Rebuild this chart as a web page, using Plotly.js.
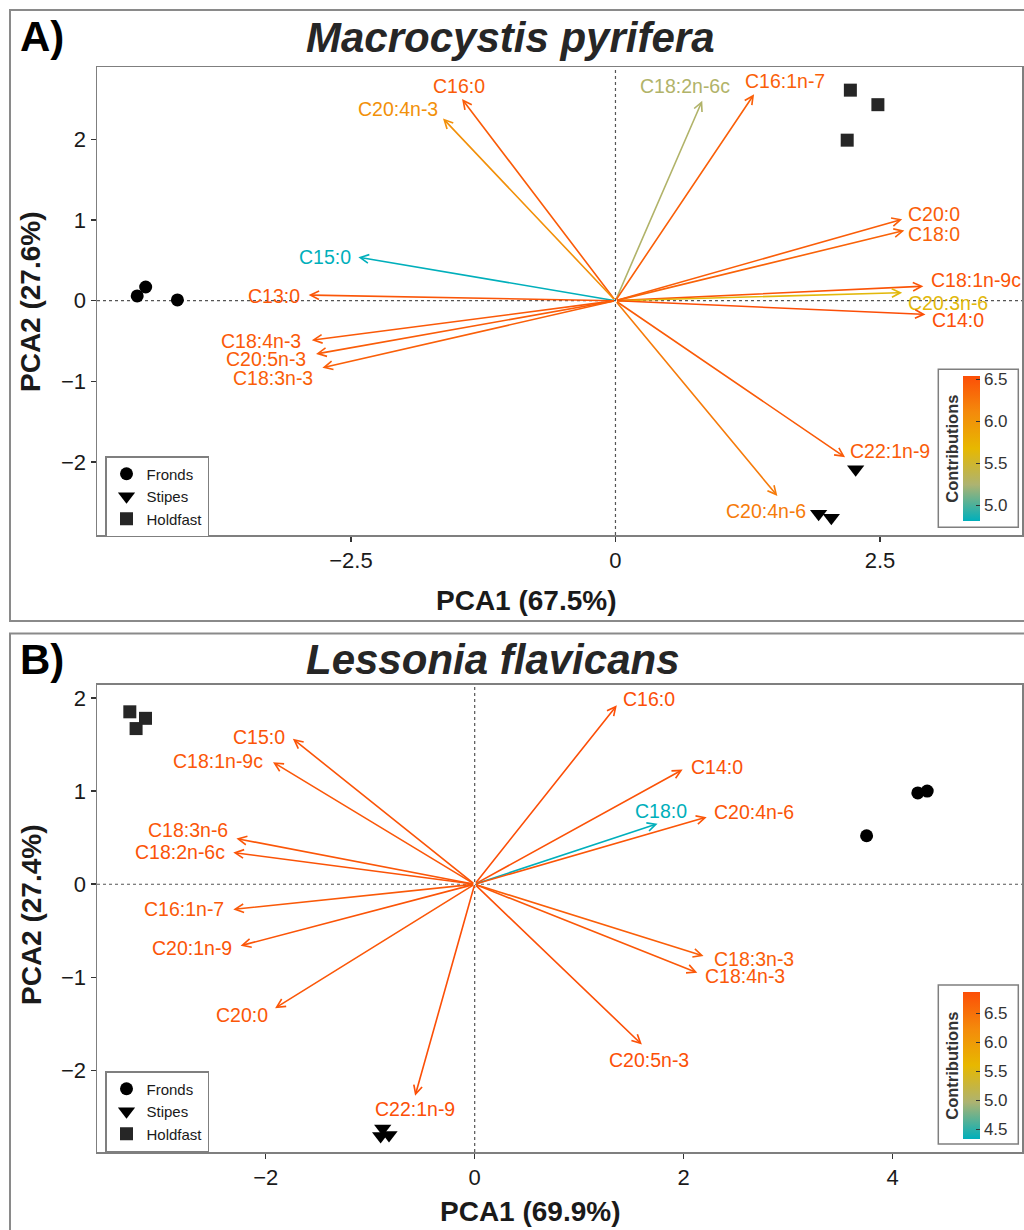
<!DOCTYPE html>
<html><head><meta charset="utf-8">
<script src="https://cdn.plot.ly/plotly-3.0.1.min.js"></script>
<style>html,body{margin:0;padding:0;background:#fff}#chart{width:1024px;height:1230px}</style>
</head><body><div id="chart"></div>
<script>
// ---------- Panel A: Macrocystis pyrifera ----------
const groups = ['Fronds', 'Stipes', 'Holdfast'];
const frondsA_x = [-4.52, -4.44, -4.14];
const frondsA_y = [0.06, 0.17, 0.01];
const stipesA_x = [2.27, 1.92, 2.04];
const stipesA_y = [-2.09, -2.64, -2.69];
const holdfastA_x = [2.22, 2.48, 2.19];
const holdfastA_y = [2.61, 2.43, 1.99];

const varsA = ['C16:0','C20:4n-3','C15:0','C13:0','C18:4n-3','C20:5n-3','C18:3n-3','C18:2n-6c','C16:1n-7','C20:0','C18:0','C18:1n-9c','C20:3n-6','C14:0','C22:1n-9','C20:4n-6'];
const pc1A = [-1.45, -1.63, -2.43, -2.90, -2.87, -2.83, -2.77, 0.82, 1.31, 2.71, 2.73, 2.91, 2.71, 2.93, 2.17, 1.53];
const pc2A = [2.50, 2.26, 0.54, 0.07, -0.49, -0.66, -0.83, 2.48, 2.56, 1.01, 0.87, 0.18, 0.10, -0.17, -1.94, -2.42];
const contribA = [6.45, 6.05, 4.82, 6.48, 6.46, 6.44, 6.42, 5.28, 6.42, 6.43, 6.40, 6.50, 5.64, 6.54, 6.45, 6.22];

// ---------- Panel B: Lessonia flavicans ----------
const frondsB_x = [3.75, 4.24, 4.33];
const frondsB_y = [0.52, 0.98, 1.00];
const stipesB_x = [-0.90, -0.82, -0.88];
const stipesB_y = [-2.70, -2.69, -2.62];
const holdfastB_x = [-3.30, -3.15, -3.24];
const holdfastB_y = [1.85, 1.78, 1.67];

const varsB = ['C16:0','C14:0','C18:0','C20:4n-6','C15:0','C18:1n-9c','C18:3n-6','C18:2n-6c','C16:1n-7','C20:1n-9','C20:0','C22:1n-9','C18:3n-3','C18:4n-3','C20:5n-3'];
const pc1B = [1.36, 1.99, 1.75, 2.22, -1.74, -1.93, -2.28, -2.31, -2.31, -2.24, -1.91, -0.57, 2.19, 2.13, 1.60];
const pc2B = [1.92, 1.23, 0.65, 0.72, 1.56, 1.31, 0.49, 0.34, -0.27, -0.66, -1.33, -2.27, -0.77, -0.95, -1.72];
const contribB = [6.87, 6.83, 4.34, 6.80, 6.81, 6.78, 6.79, 6.82, 6.75, 6.81, 6.77, 6.86, 6.70, 6.76, 6.85];

const titleA = 'Macrocystis pyrifera', xTitleA = 'PCA1 (67.5%)', yTitleA = 'PCA2 (27.6%)';
const titleB = 'Lessonia flavicans',  xTitleB = 'PCA1 (69.9%)', yTitleB = 'PCA2 (27.4%)';
const ticksA_cb = [5.0, 5.5, 6.0, 6.5];
const ticksB_cb = [4.5, 5.0, 5.5, 6.0, 6.5];

// ---------- styling (label placement: anchor, x shift px, y shift px) ----------
const labPosA = [['center',-3,13],['right',-4,9],['right',-6,0],['right',-8,-1],['right',-10,-1],['right',-9,-5],['right',-8,-10],['center',-17,15],['left',-10,13],['left',5,5],['left',3,-3],['left',7,6],['left',5,-10],['left',5,-6],['left',4,6],['right',30,-15]];
const labPosB = [['left',5,6],['left',7,3],['center',3,13],['left',6,5],['right',-7,2],['right',-9,1],['right',-7,9],['right',-7,1],['right',-8,0],['right',-8,-2],['right',-6,-7],['center',0,-13],['left',9,-3],['left',7,-3],['center',7,-15]];

const scaleStops = [[0,'#00AFBB'],[0.25,'#ADB371'],[0.5,'#E7B800'],[0.75,'#F48A0B'],[1,'#FC4E07']];
function hex2rgb(h){return [parseInt(h.slice(1,3),16),parseInt(h.slice(3,5),16),parseInt(h.slice(5,7),16)];}
function colorAt(v, lo, hi){
  let t = (v-lo)/(hi-lo); t = Math.max(0, Math.min(1, t));
  for(let i=1;i<scaleStops.length;i++){
    if(t <= scaleStops[i][0]){
      const a = scaleStops[i-1], b = scaleStops[i];
      const f = (t-a[0])/(b[0]-a[0]);
      const ca = hex2rgb(a[1]), cb = hex2rgb(b[1]);
      return 'rgb(' + ca.map((c,k)=>Math.round(c+(cb[k]-c)*f)).join(',') + ')';
    }
  }
  return scaleStops[scaleStops.length-1][1];
}

const W = 1024, H = 1230;
const px = x => x / W;
const py = y => 1 - y / H;
const FONT = 'Liberation Sans, Arial, Helvetica, sans-serif';

function pointTraces(xa, ya, legendName, fx, fy, sx, sy, hx, hy){
  const base = {type:'scatter', mode:'markers', xaxis:xa, yaxis:ya, legend:legendName, hoverinfo:'skip', cliponaxis:false};
  return [
    Object.assign({}, base, {name:groups[0], x:fx, y:fy, marker:{symbol:'circle', size:13, color:'#000'}}),
    Object.assign({}, base, {name:groups[1], x:sx, y:sy, marker:{symbol:'triangle-down', size:15, color:'#000'}}),
    Object.assign({}, base, {name:groups[2], x:hx, y:hy, marker:{symbol:'square', size:13, color:'#262626'}})
  ];
}

function cbTrace(xa, ya, xs, ys, cs, ticks, yCenter, lenPx){
  const lo = Math.min(...cs), hi = Math.max(...cs);
  return {type:'scatter', mode:'markers', xaxis:xa, yaxis:ya, x:xs, y:ys, showlegend:false, hoverinfo:'skip',
    marker:{size:2, opacity:0, color:cs, cmin:lo, cmax:hi, colorscale:scaleStops, showscale:true,
      colorbar:{x:px(962.7), xanchor:'left', xref:'paper', y:py(yCenter), yanchor:'middle', yref:'paper',
        thickness:17, thicknessmode:'pixels', len:lenPx, lenmode:'pixels', xpad:0, ypad:0,
        outlinewidth:0, ticks:'inside', ticklen:4, tickcolor:'#333', tickwidth:1,
        tickvals:ticks, ticktext:ticks.map(v=>v.toFixed(1)),
        tickfont:{family:FONT, size:17, color:'#333'}}}};
}

const traces = [].concat(
  pointTraces('x','y','legend', frondsA_x, frondsA_y, stipesA_x, stipesA_y, holdfastA_x, holdfastA_y),
  pointTraces('x2','y2','legend2', frondsB_x, frondsB_y, stipesB_x, stipesB_y, holdfastB_x, holdfastB_y),
  [cbTrace('x','y', pc1A, pc2A, contribA, ticksA_cb, 448.2, 145),
   cbTrace('x2','y2', pc1B, pc2B, contribB, ticksB_cb, 1065, 146.6)]
);

const annotations = [];
function addArrows(names, xs, ys, cs, pos, xr, yr){
  const lo = Math.min(...cs), hi = Math.max(...cs);
  names.forEach((n,i)=>{
    const col = colorAt(cs[i], lo, hi);
    annotations.push({x:xs[i], y:ys[i], xref:xr, yref:yr, ax:0, ay:0, axref:xr, ayref:yr, text:'',
      showarrow:true, arrowhead:5, arrowsize:1.05, arrowwidth:1.6, arrowcolor:col, standoff:0, startstandoff:0});
    annotations.push({x:xs[i], y:ys[i], xref:xr, yref:yr, text:n, showarrow:false,
      xanchor:pos[i][0], yanchor:'middle', xshift:pos[i][1], yshift:pos[i][2], borderpad:0,
      font:{family:FONT, size:19.5, color:col}});
  });
}
addArrows(varsA, pc1A, pc2A, contribA, labPosA, 'x', 'y');
addArrows(varsB, pc1B, pc2B, contribB, labPosB, 'x2', 'y2');

function txt(t, x, y, size, opts){
  return Object.assign({text:t, xref:'paper', yref:'paper', x:px(x), y:py(y), showarrow:false,
    xanchor:'center', yanchor:'middle', font:{family:FONT, size:size, color:'#1a1a1a'}}, opts||{});
}
annotations.push(
  txt('<b>A)</b>', 18, 36, 42, {xanchor:'left', font:{family:FONT, size:42, color:'#000'}}),
  txt('<b><i>'+titleA+'</i></b>', 510, 37.5, 42, {font:{family:FONT, size:42, color:'#262626'}}),
  txt('<b>'+xTitleA+'</b>', 526, 600, 28),
  txt('<b>'+yTitleA+'</b>', 31, 302, 28, {textangle:-90}),
  txt('<b>Contributions</b>', 951.7, 449, 16.5, {textangle:-90, font:{family:FONT, size:16.5, color:'#333'}}),
  txt('<b>B)</b>', 18, 659, 42, {xanchor:'left', font:{family:FONT, size:42, color:'#000'}}),
  txt('<b><i>'+titleB+'</i></b>', 492.5, 659, 42, {font:{family:FONT, size:42, color:'#262626'}}),
  txt('<b>'+xTitleB+'</b>', 530, 1211.5, 28),
  txt('<b>'+yTitleB+'</b>', 31, 915, 28, {textangle:-90}),
  txt('<b>Contributions</b>', 951.7, 1066, 16.5, {textangle:-90, font:{family:FONT, size:16.5, color:'#333'}})
);

const frameCol = '#8a8a8a';
const shapes = [
  {type:'rect', xref:'paper', yref:'paper', x0:px(10), x1:px(1040), y0:py(621), y1:py(10), line:{color:frameCol, width:2}, layer:'below'},
  {type:'rect', xref:'paper', yref:'paper', x0:px(10), x1:px(1040), y0:py(1250), y1:py(633.5), line:{color:frameCol, width:2}, layer:'below'},
  {type:'line', xref:'x', yref:'y domain', x0:0, x1:0, y0:0, y1:1, line:{color:'#555', width:1.2, dash:'dot'}, layer:'below'},
  {type:'line', xref:'x domain', yref:'y', x0:0, x1:1, y0:0, y1:0, line:{color:'#555', width:1.2, dash:'dot'}, layer:'below'},
  {type:'line', xref:'x2', yref:'y2 domain', x0:0, x1:0, y0:0, y1:1, line:{color:'#555', width:1.2, dash:'dot'}, layer:'below'},
  {type:'line', xref:'x2 domain', yref:'y2', x0:0, x1:1, y0:0, y1:0, line:{color:'#555', width:1.2, dash:'dot'}, layer:'below'},
  {type:'rect', xref:'paper', yref:'paper', x0:px(938.3), x1:px(1018.3), y0:py(527.3), y1:py(369.3), line:{color:'#7f7f7f', width:1.5}, fillcolor:'#fff', layer:'below'},
  {type:'rect', xref:'paper', yref:'paper', x0:px(938.3), x1:px(1018.3), y0:py(1144), y1:py(985), line:{color:'#7f7f7f', width:1.5}, fillcolor:'#fff', layer:'below'}
];

const axBase = {showgrid:false, zeroline:false, showline:true, mirror:true, linecolor:'#7f7f7f', linewidth:1.5,
  ticks:'outside', ticklen:5, tickwidth:1.5, tickcolor:'#333', tickfont:{family:FONT, size:22, color:'#1a1a1a'}, fixedrange:true};

const legBase = {bordercolor:'#7f7f7f', borderwidth:1.5, bgcolor:'#fff', xanchor:'left', yanchor:'top',
  font:{family:FONT, size:15, color:'#1a1a1a'}, itemwidth:30, tracegroupgap:0};

const layout = {
  width:W, height:H, margin:{l:0, r:0, t:0, b:0}, paper_bgcolor:'#fff', plot_bgcolor:'#fff',
  font:{family:FONT}, hovermode:false,
  xaxis: Object.assign({}, axBase, {domain:[px(97), px(1022)], range:[-4.90, 3.842], anchor:'y', tickvals:[-2.5, 0, 2.5]}),
  yaxis: Object.assign({}, axBase, {domain:[py(535), py(67)], range:[-2.904, 2.897], anchor:'x', tickvals:[-2, -1, 0, 1, 2]}),
  xaxis2: Object.assign({}, axBase, {domain:[px(97), px(1022)], range:[-3.614, 5.237], anchor:'y2', tickvals:[-2, 0, 2, 4]}),
  yaxis2: Object.assign({}, axBase, {domain:[py(1152), py(684.5)], range:[-2.873, 2.143], anchor:'x2', tickvals:[-2, -1, 0, 1, 2]}),
  legend: Object.assign({}, legBase, {x:px(105), y:py(456)}),
  legend2: Object.assign({}, legBase, {x:px(105), y:py(1071)}),
  showlegend:true,
  shapes:shapes, annotations:annotations
};

Plotly.newPlot('chart', traces, layout, {staticPlot:true, displayModeBar:false});
</script>
</body></html>
